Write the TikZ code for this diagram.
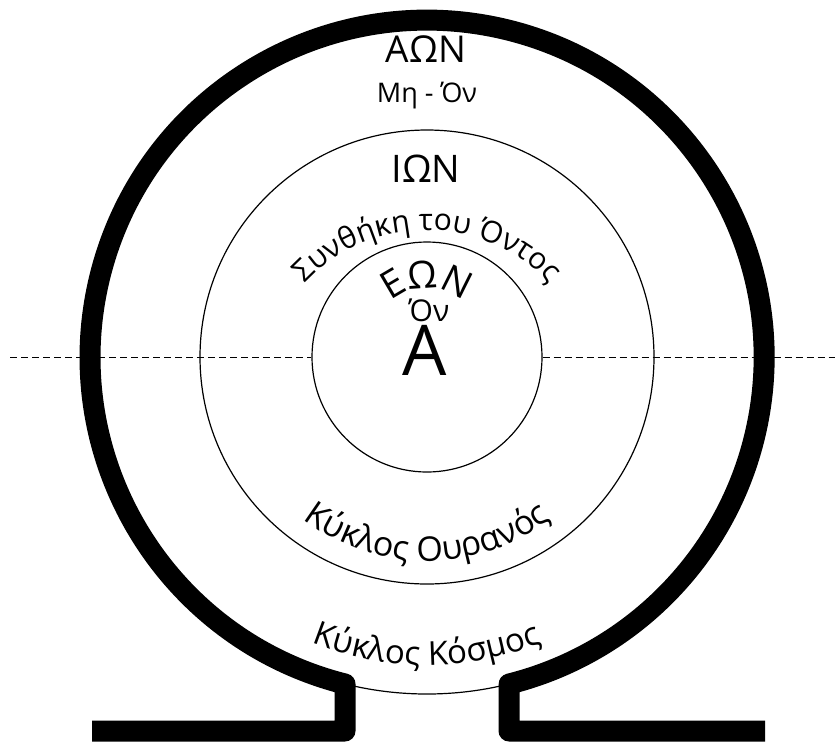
\documentclass[tikz,border=0pt]{standalone}
\usepackage{fontspec}
\setmainfont{Open Sans}
\usetikzlibrary{decorations.text}

\begin{document}
\begin{tikzpicture}[
    x=1pt, y=1pt,
    ring/.style={draw=black, line width=1.2pt},
    omega/.style={draw=black, line width=21pt, line join=round},
    axis/.style={draw=black, line width=1pt, dash pattern=on 7pt off 4pt},
    word/.style={inner sep=0pt, anchor=base},
    arcword/.style={decorate, decoration={text along path, text align=center, text={#1}}}
]
    \useasboundingbox (0,0) rectangle (835,-745);
    \coordinate (C) at (427,-357);

    % Circles
    \node (eon) [ring, circle, minimum size=230pt] at (C) {};
    \node (ion) [ring, circle, minimum size=454pt] at (C) {};
    \node (aon) [ring, circle, minimum size=674pt] at (C) {};

    % Omega outline
    \coordinate (footL) at (92,-731);
    \coordinate (footR) at (765,-731);
    \draw [omega] (footL) -- (345,-731) -- (345,-684)
        arc[start angle=255.9, end angle=-75.9, radius=337]
        -- (509,-731) -- (footR);

    % Axis
    \coordinate (axisL) at (10,-357);
    \coordinate (axisR) at (835,-357);
    \draw [axis] (axisL) -- (eon.west);
    \draw [axis] (eon.east) -- (axisR);

    % Labels
    \node (aonT) [word, font=\fontsize{37}{40}\selectfont] at (426,-62) {ΑΩΝ};
    \node (mhon) [word, font=\fontsize{27}{30}\selectfont] at (427,-102) {Μη - Όν};
    \node (ionT) [word, font=\fontsize{38}{40}\selectfont] at (426,-182) {ΙΩΝ};
    \node (on) [word, font=\fontsize{30}{32}\selectfont] at (429,-321) {Όν};
    \node (alpha) [word, font=\fontsize{70}{72}\selectfont] at (425,-375) {Α};

    % Curved labels
    \path [arcword={|\fontsize{30}{32}\selectfont|Συνθήκη του Όντος}]
        (427,-397) ++(160:167) arc[start angle=160, end angle=20, radius=167];
    \path [arcword={|\fontsize{38}{40}\selectfont|ΕΩΝ}]
        (427,-343) ++(170:55) arc[start angle=170, end angle=10, radius=55];
    \path [arcword={|\fontsize{34}{36}\selectfont|Κύκλος Ουρανός}]
        (C) ++(200:204) arc[start angle=200, end angle=340, radius=204];
    \path [arcword={|\fontsize{33}{36}\selectfont|Κύκλος Κόσμος}]
        (C) ++(235:308) arc[start angle=235, end angle=305, radius=308];
\end{tikzpicture}
\end{document}
